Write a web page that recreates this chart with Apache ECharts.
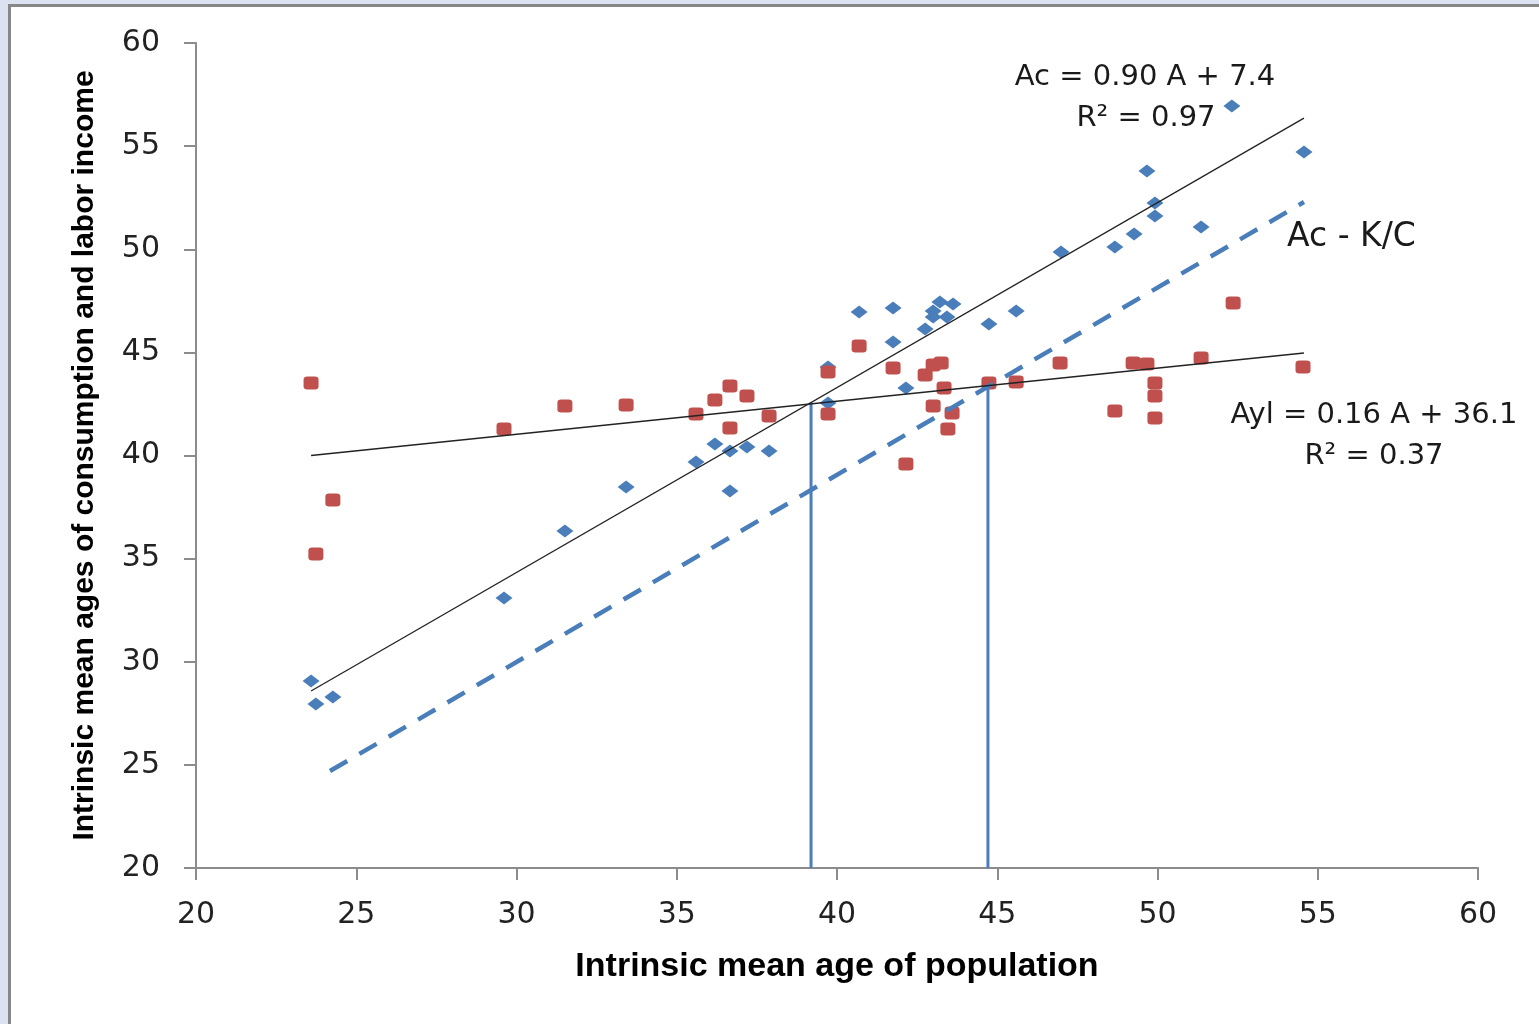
<!DOCTYPE html>
<html>
<head>
<meta charset="utf-8">
<script src="https://cdn.jsdelivr.net/npm/echarts@6/dist/echarts.min.js"></script>
<style>
  html, body { margin: 0; padding: 0; width: 1539px; height: 1024px; overflow: hidden; background: #dbe3f1; }
  #frame { position: absolute; left: 8px; top: 4px; right: 0; bottom: 0; background: #ffffff;
           border-left: 3px solid #878787; border-top: 3px solid #878787; }
  #chart { position: absolute; left: 0; top: 0; width: 1539px; height: 1024px; }
</style>
</head>
<body>
<div id="frame"></div>
<div id="chart"></div>
<script>
// Intrinsic mean age of population (A) and mean age of consumption (Ac)
const acA   = [23.59, 23.74, 24.27, 29.61, 31.51, 33.42, 35.60, 36.19, 36.66, 36.66, 37.19, 37.88,
               39.72, 39.72, 40.69, 41.75, 41.75, 42.15, 42.75, 43.00, 43.00, 43.21, 43.62, 43.43,
               44.74, 45.59, 46.99, 48.67, 49.27, 49.67, 49.92, 49.92, 51.36, 52.32, 54.57];
const acVal = [29.07, 27.95, 28.29, 33.09, 36.34, 38.47, 39.68, 40.56, 40.22, 38.28, 40.41, 40.22,
               42.55, 44.29, 46.96, 47.15, 45.50, 43.27, 46.13, 47.01, 46.72, 47.44, 47.35, 46.72,
               46.38, 47.01, 49.87, 50.11, 50.74, 53.79, 52.24, 51.61, 51.08, 56.95, 54.72];
// Intrinsic mean age of population (A) and mean age of labor income (Ayl)
const aylA   = [23.59, 23.74, 24.27, 29.61, 31.51, 33.42, 35.60, 36.19, 36.66, 36.66, 37.19, 37.88,
                39.72, 39.72, 40.69, 41.75, 42.15, 42.75, 43.00, 43.25, 43.00, 43.34, 43.59, 43.46,
                44.74, 45.59, 46.96, 48.67, 49.24, 49.67, 49.92, 49.92, 49.92, 51.36, 52.36, 54.54];
const aylVal = [43.52, 35.22, 37.84, 41.28, 42.40, 42.45, 42.01, 42.69, 43.37, 41.33, 42.88, 41.92,
                44.05, 42.01, 45.31, 44.24, 39.59, 43.90, 44.39, 44.48, 42.40, 43.27, 42.06, 41.28,
                43.52, 43.56, 44.48, 42.16, 44.48, 44.44, 43.52, 42.88, 41.82, 44.73, 47.39, 44.29];
// Trend lines and reference lines (end points)
const acTrendX  = [23.59, 54.57];
const acTrendY  = [28.58, 56.36];
const aylTrendX = [23.59, 54.57];
const aylTrendY = [40.00, 44.97];
const acKcX     = [24.18, 54.57];
const acKcY     = [24.70, 52.29];
const vLine1X   = [39.19, 39.19];
const vLine1Y   = [20, 42.57];
const vLine2X   = [44.71, 44.71];
const vLine2Y   = [20, 43.47];
// Axis ticks
const xTicks = [20, 25, 30, 35, 40, 45, 50, 55, 60];
const yTicks = [20, 25, 30, 35, 40, 45, 50, 55, 60];
// Annotation texts
const acEqText   = 'Ac = 0.90 A + 7.4';
const acR2Text   = 'R² = 0.97';
const acKcText   = 'Ac - K/C';
const aylEqText  = 'Ayl = 0.16 A + 36.1';
const aylR2Text  = 'R² = 0.37';
const xTitle = 'Intrinsic mean age of population';
const yTitle = 'Intrinsic mean ages of consumption and labor income';

const zip = (a, b) => a.map((v, i) => [v, b[i]]);
const BLUE = '#4a7ebb', RED = '#c0504d';
const chart = echarts.init(document.getElementById('chart'), null, { renderer: 'canvas' });

const axisCommon = (ticks) => ({
  type: 'value', min: ticks[0], max: ticks[ticks.length - 1], interval: ticks[1] - ticks[0],
  axisLine: { show: true, onZero: false, lineStyle: { color: '#8c8c8c', width: 2 } },
  axisTick: { show: true, inside: false, length: 12, lineStyle: { color: '#8c8c8c', width: 2 } },
  splitLine: { show: false }
});

const annText = (txt, x, y, size, align) => ({
  type: 'text', x: x, y: y, z: 100,
  style: { text: txt, fontFamily: 'DejaVu Sans', fontSize: size, fill: '#1a1a1a',
           textAlign: align, textVerticalAlign: 'middle', verticalAlign: 'middle', align: align }
});

chart.setOption({
  animation: false,
  grid: { left: 196, right: 61, top: 43, bottom: 156, containLabel: false },
  xAxis: Object.assign(axisCommon(xTicks), {
    name: xTitle, nameLocation: 'middle', nameGap: 82,
    nameTextStyle: { fontFamily: 'Liberation Sans', fontWeight: 'bold', color: '#000', fontSize: 34 },
    axisLabel: { margin: 32, fontFamily: 'DejaVu Sans', fontSize: 30, color: '#222' }
  }),
  yAxis: Object.assign(axisCommon(yTicks), {
    name: yTitle, nameLocation: 'middle', nameGap: 96, nameRotate: 90,
    nameTextStyle: { fontFamily: 'Liberation Sans', fontWeight: 'bold', color: '#000', fontSize: 30 },
    axisLabel: { margin: 36, fontFamily: 'DejaVu Sans', fontSize: 30, color: '#222' }
  }),
  series: [
    { type: 'scatter', name: 'Ac', data: zip(acA, acVal), symbol: 'diamond', symbolSize: [17, 13],
      itemStyle: { color: BLUE, opacity: 1 }, z: 3 },
    { type: 'scatter', name: 'Ayl', data: zip(aylA, aylVal), symbol: 'roundRect', symbolSize: [15, 13],
      itemStyle: { color: RED, opacity: 1 }, z: 3 },
    { type: 'line', data: zip(acKcX, acKcY), symbol: 'none', silent: true, z: 4,
      lineStyle: { color: BLUE, width: 4.5, type: [20, 14], cap: 'butt' } },
    { type: 'line', data: zip(vLine1X, vLine1Y), symbol: 'none', silent: true, z: 4,
      lineStyle: { color: BLUE, width: 3 } },
    { type: 'line', data: zip(vLine2X, vLine2Y), symbol: 'none', silent: true, z: 4,
      lineStyle: { color: BLUE, width: 3 } },
    { type: 'line', data: zip(acTrendX, acTrendY), symbol: 'none', silent: true, z: 5,
      lineStyle: { color: '#222', width: 1.3 } },
    { type: 'line', data: zip(aylTrendX, aylTrendY), symbol: 'none', silent: true, z: 5,
      lineStyle: { color: '#222', width: 1.3 } }
  ],
  graphic: [
    annText(acEqText, 1145, 77, 29, 'center'),
    annText(acR2Text, 1146, 118, 29, 'center'),
    annText(acKcText, 1287, 237, 33, 'left'),
    annText(aylEqText, 1374, 415, 29, 'center'),
    annText(aylR2Text, 1374, 456, 29, 'center')
  ]
});
</script>
</body>
</html>
